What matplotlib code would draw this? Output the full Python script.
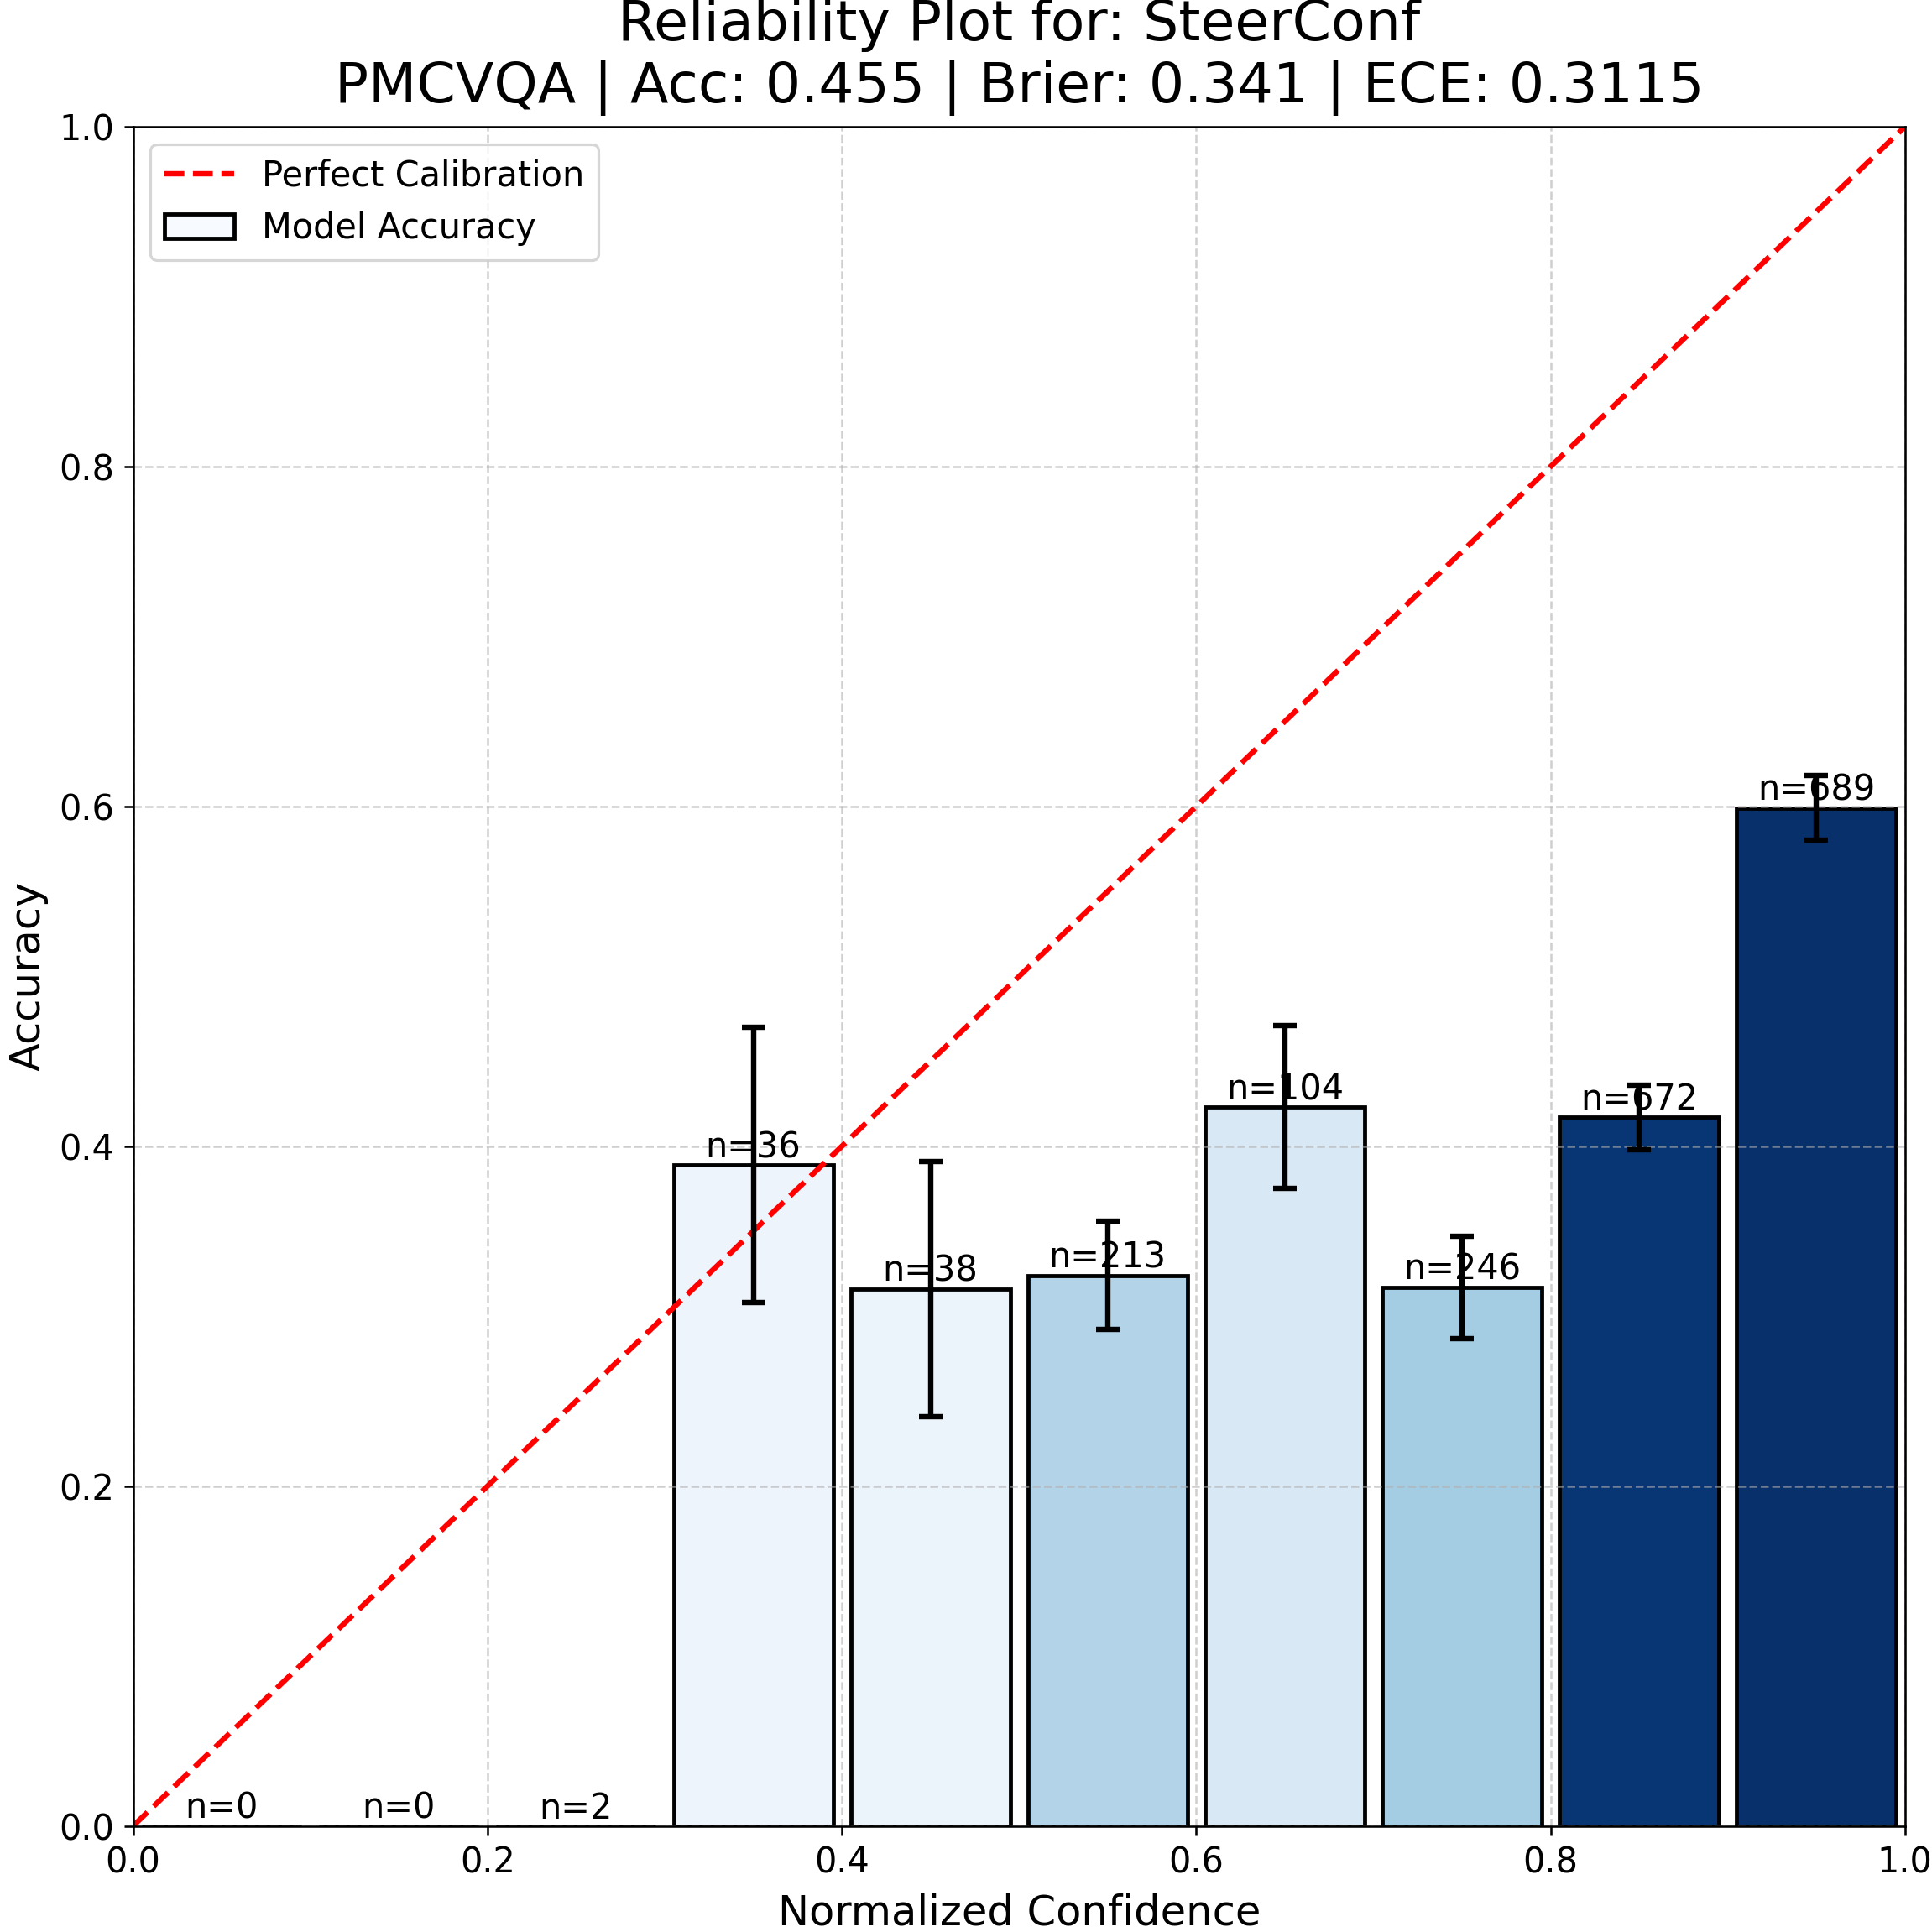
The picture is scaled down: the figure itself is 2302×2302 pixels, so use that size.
import matplotlib
matplotlib.use("Agg")
import matplotlib.pyplot as plt
import numpy as np

# reliability bins (10 equal-width confidence bins)
BIN_CENTERS = [0.05, 0.15, 0.25, 0.35, 0.45, 0.55, 0.65, 0.75, 0.85, 0.95]
BIN_COUNTS = [0, 0, 2, 36, 38, 213, 104, 246, 672, 689]
BIN_ACC = [0.0, 0.0, 0.0, 0.389, 0.316, 0.324, 0.423, 0.317, 0.417, 0.599]
BIN_ERR = [0.0, 0.0, 0.0, 0.081, 0.075, 0.032, 0.048, 0.030, 0.019, 0.019]

MODEL = "SteerConf"
DATASET = "PMCVQA"
ACC = 0.455
BRIER = 0.341
ECE = 0.3115

OUT_PATH = "out.png"


def main():
    fig = plt.figure(figsize=(10, 10), dpi=230.2)
    ax = fig.add_axes([0.0689, 0.0549, 0.9171, 0.8795])

    counts = np.array(BIN_COUNTS)
    colors = plt.cm.Blues(counts / counts.max())

    ax.plot([0, 1], [0, 1], "r--", linewidth=2, label="Perfect Calibration")
    ax.bar(BIN_CENTERS, BIN_ACC, width=0.09, color=colors, edgecolor="black",
           linewidth=1.5, label="Model Accuracy")

    # error bars only where there is a visible interval
    keep = [e > 0 for e in BIN_ERR]
    xs = [x for x, k in zip(BIN_CENTERS, keep) if k]
    ys = [a for a, k in zip(BIN_ACC, keep) if k]
    es = [e for e, k in zip(BIN_ERR, keep) if k]
    ax.errorbar(xs, ys, yerr=es, fmt="none", ecolor="black",
                elinewidth=2, capsize=4.5, capthick=2)

    for x, a, n in zip(BIN_CENTERS, BIN_ACC, BIN_COUNTS):
        ax.text(x, a, f"n={n}", ha="center", va="bottom", fontsize=13)

    ax.set_xlim(0, 1)
    ax.set_ylim(0, 1)
    ax.tick_params(labelsize=13)
    ax.set_xlabel("Normalized Confidence", fontsize=15.5, labelpad=5)
    ax.set_ylabel("Accuracy", fontsize=15.5)
    ax.set_title(f"Reliability Plot for: {MODEL}\n"
                 f"{DATASET} | Acc: {ACC:.3f} | Brier: {BRIER:.3f} | ECE: {ECE:.4f}",
                 fontsize=20.8, pad=9)
    ax.grid(True, linestyle="--", alpha=0.6)
    ax.legend(loc="upper left", fontsize=13)

    fig.savefig(OUT_PATH, dpi=230.2)
    plt.close(fig)


if __name__ == "__main__":
    main()
